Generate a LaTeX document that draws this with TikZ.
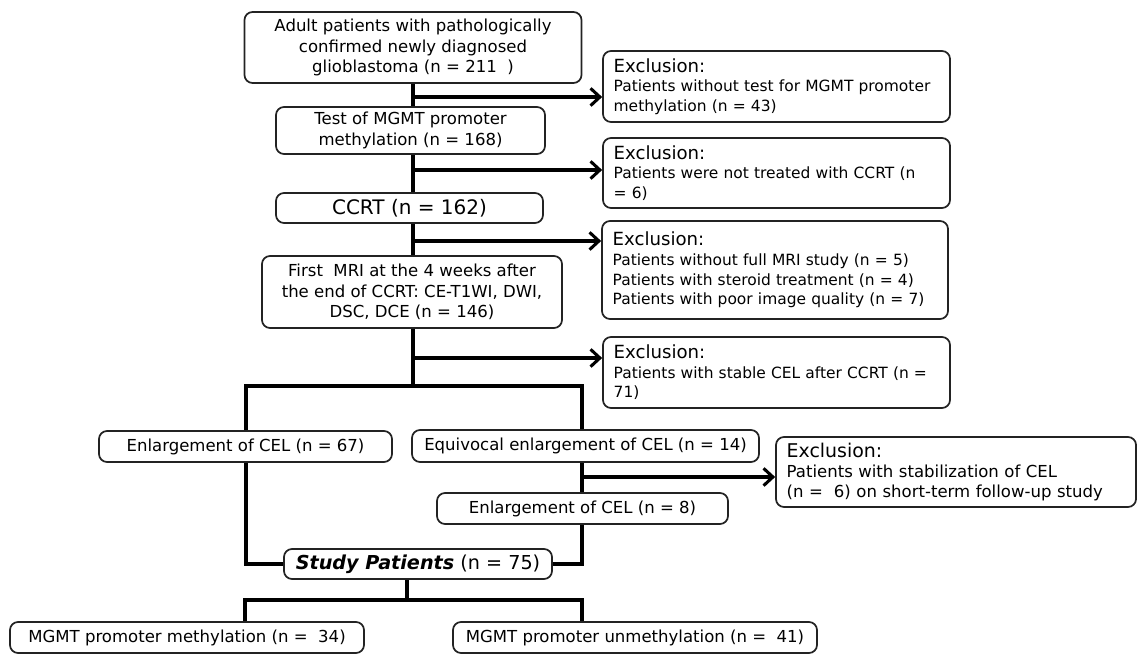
\documentclass[tikz,border=0pt]{standalone}
\usepackage{fontspec}
\setmainfont{DejaVu Sans}
\usetikzlibrary{arrows.meta}

\tikzset{every picture/.style={line width=0.75pt}}
\tikzset{
  flowbox/.style={draw={rgb, 255:red, 35; green, 35; blue, 35 }, line width=1.3pt, rounded corners=6pt, align=center, inner sep=0pt, font=\fontsize{12.4}{15.5}\selectfont},
  exclbox/.style={flowbox, align=left, inner xsep=8pt, inner ysep=0pt, font=\fontsize{11.6}{14.7}\selectfont},
  link/.style={line width=2.8pt},
  linkarrow/.style={link, -{Straight Barb[length=7pt,width=13pt,line width=2.3pt]}}
}
\newcommand{\exclhead}{{\fontsize{13.6}{17}\selectfont Exclusion:}}

\begin{document}
\begin{tikzpicture}[x=0.75pt,y=0.75pt,yscale=-1,xscale=1]
\useasboundingbox (0,0) rectangle (1137,655);

%Main column
\node [flowbox, minimum width=252.75pt, minimum height=53.25pt] (adult) at (413,47.5) {Adult patients with pathologically\\confirmed newly diagnosed\\glioblastoma (n = 211~~)};
\node [flowbox, minimum width=201.75pt, minimum height=35.25pt] (test) at (410.5,130.5) {Test of MGMT promoter\\methylation (n = 168)};
\node [flowbox, minimum width=200.25pt, minimum height=22.5pt, font=\fontsize{15}{18}\selectfont] (ccrt) at (409.5,208) {CCRT (n = 162)};
\node [flowbox, minimum width=225pt, minimum height=54pt] (mri) at (412,292) {First~ MRI at the 4 weeks after\\the end of CCRT: CE-T1WI, DWI,\\DSC, DCE (n = 146)};
\node [flowbox, minimum width=219.75pt, minimum height=23.25pt] (enl67) at (245.5,446.5) {Enlargement of CEL (n = 67)};
\node [flowbox, minimum width=260.25pt, minimum height=24pt] (equiv) at (585.5,446) {Equivocal enlargement of CEL (n = 14)};
\node [flowbox, minimum width=218.25pt, minimum height=23.25pt] (enl8) at (582.5,508.5) {Enlargement of CEL (n = 8)};
\node [flowbox, minimum width=201pt, minimum height=22.5pt, font=\fontsize{14.4}{17}\selectfont] (study) at (418,564) {\textbf{\textit{Study Patients}} (n = 75)};
\node [flowbox, minimum width=265.5pt, minimum height=23.25pt] (meth) at (187,637.5) {MGMT promoter methylation (n =~ 34)};
\node [flowbox, minimum width=273pt, minimum height=23.25pt] (unmeth) at (635,637.5) {MGMT promoter unmethylation (n =~ 41)};

%Exclusion boxes
\node [exclbox, text width=244.25pt, minimum height=53.25pt] (excl1) at (776.5,86.5) {\exclhead\\Patients without test for MGMT promoter\\methylation (n = 43)};
\node [exclbox, text width=244.25pt, minimum height=52.5pt] (excl2) at (776.5,173) {\exclhead\\Patients were not treated with CCRT (n\\= 6)};
\node [exclbox, text width=243.5pt, minimum height=73.5pt] (excl3) at (775,270) {\exclhead\\Patients without full MRI study (n = 5)\\Patients with steroid treatment (n = 4)\\Patients with poor image quality (n = 7)};
\node [exclbox, text width=244.25pt, minimum height=53.25pt] (excl4) at (776.5,372.5) {\exclhead\\Patients with stable CEL after CCRT (n =\\71)};
\node [exclbox, text width=254pt, minimum height=52.5pt, font=\fontsize{12.4}{15}\selectfont] (excl5) at (956,472) {{\fontsize{14.2}{17}\selectfont Exclusion:}\\Patients with stabilization of CEL\\(n =~ 6) on short-term follow-up study};

%Junctions
\coordinate (j1) at (413,97);
\coordinate (j2) at (413,170);
\coordinate (j3) at (413,241);
\coordinate (j4) at (413,358);
\coordinate (split) at (413,386);
\coordinate (lline) at (246,386);
\coordinate (rline) at (582,386);
\coordinate (j5) at (582,477);
\coordinate (split2) at (407,600);
\coordinate (bl) at (245,600);
\coordinate (br) at (582,600);

%Straight Lines
\draw [link] (adult.south) -- (adult.south |- test.north);
\draw [link] (test.south -| adult.south) -- (ccrt.north -| adult.south);
\draw [link] (ccrt.south -| adult.south) -- (mri.north -| adult.south);
\draw [link] (mri.south -| split) -- (split);
\draw [link] (lline |- enl67.north) -- (lline) -- (rline) -- (rline |- equiv.north);
\draw [link] (rline |- equiv.south) -- (rline |- enl8.north);
\draw [link] (lline |- enl67.south) |- (study.west);
\draw [link] (rline |- enl8.south) |- (study.east);
\draw [link] (study.south -| split2) -- (split2);
\draw [link] (bl |- meth.north) -- (bl) -- (br) -- (br |- unmeth.north);

%Arrows
\draw [linkarrow] (j1) -- (j1 -| excl1.west);
\draw [linkarrow] (j2) -- (j2 -| excl2.west);
\draw [linkarrow] (j3) -- (j3 -| excl3.west);
\draw [linkarrow] (j4) -- (j4 -| excl4.west);
\draw [linkarrow] (j5) -- (j5 -| excl5.west);

\end{tikzpicture}
\end{document}
